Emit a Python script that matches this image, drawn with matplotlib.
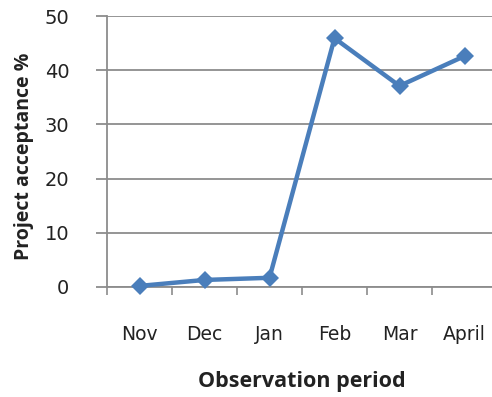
import matplotlib
matplotlib.use("Agg")
import matplotlib.pyplot as plt
import numpy as np

months = ["Nov", "Dec", "Jan", "Feb", "Mar", "April"]
acceptance = [0.2, 1.3, 1.7, 45.9, 37.1, 42.6]
y_ticks = [0, 10, 20, 30, 40, 50]

plt.rcParams['font.family'] = ['DejaVu Sans']

fig = plt.figure(figsize=(4.92, 3.97), dpi=100)
ax = fig.add_axes([107/492, 1-287/397, 390/492, (287-16)/397])

x = np.arange(len(months))
ax.plot(x, acceptance, color="#4a7ebb", lw=3.2, marker="D", ms=9,
        markeredgewidth=0, clip_on=False, zorder=3)

ax.set_xlim(-0.5, len(months) - 0.5)
ax.set_ylim(0, 50)
ax.set_yticks(y_ticks)
ax.yaxis.grid(True, color="#8c8c8c", lw=1.3)
ax.set_axisbelow(True)

ax.set_xticks(x)
ax.set_xticklabels(months, fontsize=13.5, color="#222222")
ax.set_xticks(np.arange(-0.5, len(months)), minor=True)
ax.tick_params(axis="x", which="major", length=0, pad=27)
ax.tick_params(axis="x", which="minor", length=6, width=1.2, color="#8c8c8c")
ax.tick_params(axis="y", length=8, width=1.3, color="#8c8c8c",
               labelsize=14, labelcolor="#222222", pad=19)

for s in ["top", "right"]:
    ax.spines[s].set_visible(False)
for s in ["left", "bottom"]:
    ax.spines[s].set_color("#8c8c8c")
    ax.spines[s].set_linewidth(1.3)

fig.text(302/492, 1-382/397, "Observation period", ha="center", va="center",
         fontsize=15.5, fontweight="bold", color="#222222",
         family=["Open Sans", "DejaVu Sans"])
fig.text(24/492, 1-156/397, "Project acceptance %", ha="center", va="center",
         rotation=90, fontsize=14, fontweight="bold", color="#222222",
         family=["Open Sans", "DejaVu Sans"])

fig.savefig("out.png", dpi=100)
